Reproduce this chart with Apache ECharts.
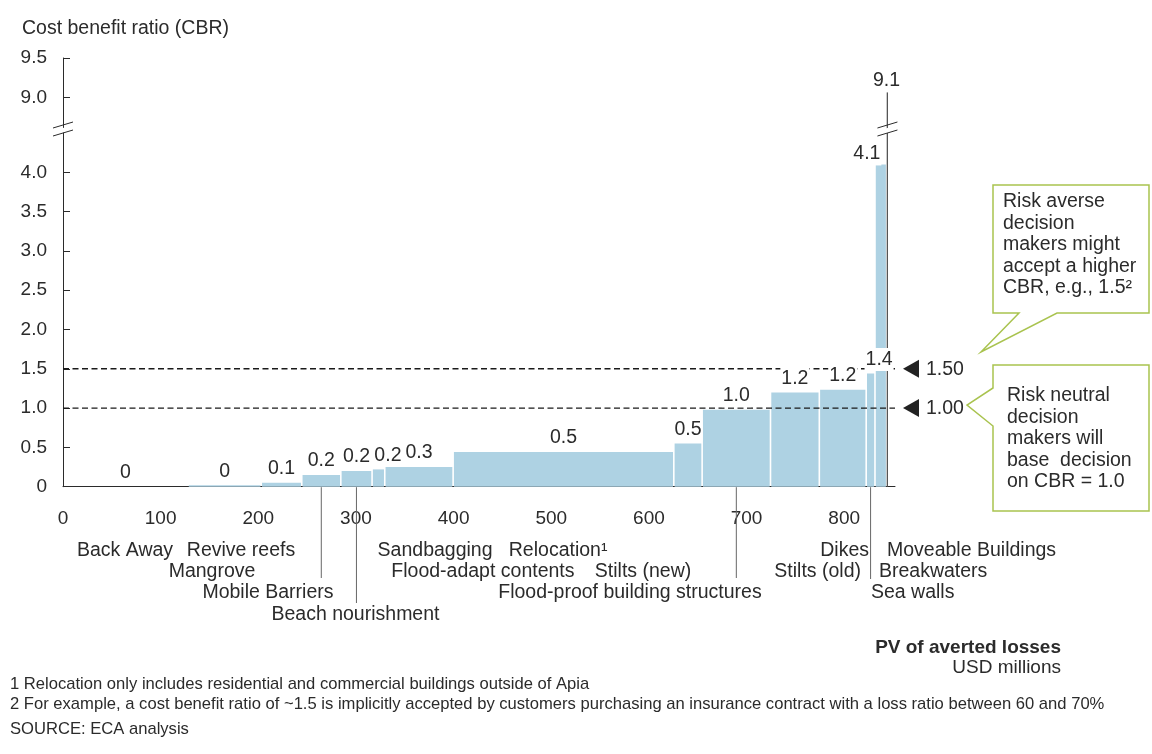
<!DOCTYPE html>
<html><head><meta charset="utf-8">
<script src="https://cdn.jsdelivr.net/npm/echarts@6/dist/echarts.min.js"></script>
<style>html,body{margin:0;padding:0;background:#fff}#c{width:1152px;height:754px}</style>
</head><body><div id="c"></div>
<script>
// ---------------- data ----------------
const measures = ['Back Away','Mangrove','Revive reefs','Mobile Barriers','Beach nourishment','Sandbagging',
  'Flood-adapt contents','Relocation¹','Stilts (new)','Flood-proof building structures','Stilts (old)',
  'Dikes','Sea walls','Breakwaters','Moveable Buildings'];
// PV of averted losses per measure (USD millions) = bar widths
const averted = [128, 75, 41.5, 40, 32, 13, 70, 226, 29, 70, 50, 48, 9, 12, 1.5];
// cost benefit ratio = bar heights
const cbr = [0, 0.02, 0.05, 0.15, 0.2, 0.22, 0.25, 0.44, 0.55, 0.98, 1.2, 1.235, 1.44, 4.1, 9.1];
const valueLabels = ['0','0','0.1','0.2','0.2','0.2','0.3','0.5','0.5','1.0','1.2','1.2','1.4','4.1','9.1'];
const xTicks = [0, 100, 200, 300, 400, 500, 600, 700, 800];
const lowerTicks = [0, 0.5, 1.0, 1.5, 2.0, 2.5, 3.0, 3.5, 4.0];
const upperTicks = [9.0, 9.5];
const thresholds = [1.5, 1.0];

// ---------------- layout / style ----------------
const X_MAX = 852, LOW_MAX = 4.5, UP_MIN = 8.6, UP_MAX = 9.5;
const BAR = '#aed2e3', INK = '#2b2b2b', FONT = '"Liberation Sans", Arial, Helvetica, sans-serif';
const FS = 19.5;
// value label nudges (px) by bar index
const labelShift = {5: [9.5, 0], 12: [8.5, 0], 13: [-14, 3.5], 14: [-1, 5.5]};
// names under the axis: [x in PV units, row, align]
const nameLayout = {
  'Back Away': [63.5, 0, 'center'], 'Revive reefs': [182.3, 0, 'center'], 'Mangrove': [152.6, 1, 'center'],
  'Mobile Barriers': [209.9, 2, 'center'], 'Beach nourishment': [299.5, 3, 'center'],
  'Sandbagging': [381, 0, 'center'], 'Relocation¹': [507, 0, 'center'], 'Flood-adapt contents': [430, 1, 'center'],
  'Stilts (new)': [594, 1, 'center'], 'Flood-proof building structures': [580.6, 2, 'center'],
  'Dikes': [825.4, 0, 'right'], 'Stilts (old)': [817.2, 1, 'right'], 'Moveable Buildings': [843.8, 0, 'left'],
  'Breakwaters': [835.6, 1, 'left'], 'Sea walls': [827.4, 2, 'left']
};
const rowY = [551, 572, 593, 615];
const leaderEnd = {3: 578, 4: 603, 9: 578, 12: 579};

const starts = [], ends = [];
let acc = 0;
averted.forEach(w => { starts.push(acc); acc += w; ends.push(acc); });
const barData = cbr.map((v, i) => [starts[i], ends[i], v, i]);
const last = averted.length - 1;

function fmtY(v) { return v === 0 ? '0' : v.toFixed(1); }

function barRect(params, api, upper) {
  const s = api.value(0), e = api.value(1), v = api.value(2), i = api.value(3);
  const cs = params.coordSys;
  if (upper && v < UP_MIN) return null;
  const p0 = api.coord([s, upper ? UP_MIN : 0]);
  const p1 = api.coord([e, v]);
  const bottom = upper ? cs.y + cs.height : p0[1];
  const top = Math.max(p1[1], cs.y);
  if (i === last) {
    return {type: 'rect', shape: {x: p0[0], y: top, width: 1.3, height: bottom - top}, style: {fill: '#555'}};
  }
  return {type: 'rect', shape: {x: p0[0] + 0.8, y: top, width: p1[0] - p0[0] - 1.6, height: bottom - top},
          style: {fill: BAR}};
}
function barLabel(params, api, upper) {
  const s = api.value(0), e = api.value(1), v = api.value(2), i = api.value(3);
  if (upper ? v < UP_MIN : v > LOW_MAX) return null;
  const p = api.coord([(s + e) / 2, v]);
  const sh = labelShift[i] || [0, 0];
  return {type: 'text', x: p[0] + sh[0], y: p[1] - 14 + sh[1],
    style: {text: valueLabels[i], fill: INK, font: FS + 'px ' + FONT, align: 'center', verticalAlign: 'middle',
            backgroundColor: '#fff', padding: [2, 1, 1, 1]}};
}

const yAxisCommon = (min, max, ticks) => ({
  type: 'value', min: min, max: max, splitLine: {show: false},
  axisLine: {show: true, onZero: false, lineStyle: {color: INK, width: 1}},
  axisTick: {show: true, inside: true, length: 7, customValues: ticks, lineStyle: {color: INK}},
  axisLabel: {customValues: ticks, formatter: fmtY, color: INK, fontSize: 19, fontFamily: FONT, margin: 16}
});

const chart = echarts.init(document.getElementById('c'), null, {renderer: 'canvas'});
const option = {
  animation: false,
  grid: [{left: 63, top: 58, width: 832, height: 70.7}, {left: 63, top: 133, width: 832, height: 353.7}],
  xAxis: [
    {gridIndex: 0, type: 'value', min: 0, max: X_MAX, show: false},
    {gridIndex: 1, type: 'value', min: 0, max: X_MAX, splitLine: {show: false}, axisTick: {show: false},
     axisLine: {lineStyle: {color: INK, width: 1}},
     axisLabel: {customValues: xTicks, color: INK, fontSize: 19, fontFamily: FONT, margin: 23}}
  ],
  yAxis: [Object.assign({gridIndex: 0}, yAxisCommon(UP_MIN, UP_MAX, upperTicks)),
          Object.assign({gridIndex: 1}, yAxisCommon(0, LOW_MAX, lowerTicks))],
  series: [
    {type: 'custom', name: 'barsLow', xAxisIndex: 1, yAxisIndex: 1, z: 2, data: barData,
     encode: {x: [0, 1], y: 2}, renderItem: (p, a) => barRect(p, a, false)},
    {type: 'custom', name: 'barsUp', xAxisIndex: 0, yAxisIndex: 0, z: 2, data: barData,
     encode: {x: [0, 1], y: 2}, renderItem: (p, a) => barRect(p, a, true)},
    {type: 'custom', name: 'thresholds', xAxisIndex: 1, yAxisIndex: 1, z: 3, data: thresholds.map(t => [t]),
     encode: {y: 0},
     renderItem: function (params, api) {
       const t = api.value(0);
       const a = api.coord([0, t]), b = api.coord([X_MAX, t]);
       return {type: 'group', children: [
         {type: 'line', shape: {x1: a[0], y1: a[1], x2: b[0], y2: b[1]},
          style: {stroke: '#1a1a1a', lineWidth: 1.4, lineDash: [6, 3.5]}},
         {type: 'polygon', shape: {points: [[b[0] + 8, b[1]], [b[0] + 24, b[1] - 9], [b[0] + 24, b[1] + 9]]},
          style: {fill: '#222'}},
         {type: 'text', x: b[0] + 31, y: b[1] + 0.5,
          style: {text: t.toFixed(2), fill: INK, font: FS + 'px ' + FONT, align: 'left', verticalAlign: 'middle'}}
       ]};
     }},
    {type: 'custom', name: 'labelsLow', xAxisIndex: 1, yAxisIndex: 1, z: 4, data: barData,
     encode: {x: [0, 1], y: 2}, renderItem: (p, a) => barLabel(p, a, false)},
    {type: 'custom', name: 'labelsUp', xAxisIndex: 0, yAxisIndex: 0, z: 4, data: barData,
     encode: {x: [0, 1], y: 2}, renderItem: (p, a) => barLabel(p, a, true)}
  ]
};
chart.setOption(option);

// ---------------- annotations ----------------
const px = (x, y, g) => chart.convertToPixel({gridIndex: g}, [x, y]);
const g = [];
const txt = (x, y, text, o) => Object.assign({type: 'text', x: x, y: y, z: 20,
  style: Object.assign({text: text, fill: INK, font: FS + 'px ' + FONT, verticalAlign: 'middle'}, o || {})});

g.push(txt(22, 29, 'Cost benefit ratio (CBR)'));

// names below axis
measures.forEach(n => {
  const L = nameLayout[n];
  const p = px(L[0], 0, 1);
  g.push(txt(p[0], rowY[L[1]], n, {align: L[2]}));
});
// leader lines
Object.keys(leaderEnd).forEach(k => {
  const i = +k;
  const p = px((starts[i] + ends[i]) / 2, 0, 1);
  g.push({type: 'line', z: 20, shape: {x1: p[0], y1: p[1] + 0.5, x2: p[0], y2: leaderEnd[k]},
          style: {stroke: '#666', lineWidth: 1}});
});
// axis breaks
const yU = px(0, UP_MIN, 0)[1], yL = px(0, LOW_MAX, 1)[1];
[0, (starts[last] + ends[last]) / 2].forEach(xv => {
  const xp = px(xv, 0, 1)[0];
  g.push({type: 'polygon', z: 21, shape: {points: [[xp - 4, yU + 0.5], [xp + 4, yU - 2], [xp + 4, yL - 2], [xp - 4, yL + 0.5]]},
          style: {fill: '#fff'}});
  g.push({type: 'line', z: 22, shape: {x1: xp - 10, y1: yU - 0.7, x2: xp + 10, y2: yU - 6.7}, style: {stroke: INK, lineWidth: 1}});
  g.push({type: 'line', z: 22, shape: {x1: xp - 10, y1: yL + 3, x2: xp + 10, y2: yL - 3}, style: {stroke: INK, lineWidth: 1}});
});

// callouts
const CALL = '#a9c34f';
g.push({type: 'polygon', z: 20, shape: {points: [[993,185],[1149,185],[1149,313],[1057,313],[981,352],[1019,313],[993,313]]},
        style: {fill: '#fff', stroke: CALL, lineWidth: 1.5}});
g.push({type: 'polygon', z: 20, shape: {points: [[993,365],[1149,365],[1149,511],[993,511],[993,426],[967,405],[993,388]]},
        style: {fill: '#fff', stroke: CALL, lineWidth: 1.5}});
g.push(txt(1003, 191, 'Risk averse\ndecision\nmakers might\naccept a higher\nCBR, e.g., 1.5²',
        {verticalAlign: 'top', lineHeight: 21.5, z: 21}));
g.push(txt(1007, 385, 'Risk neutral\ndecision\nmakers will\nbase  decision\non CBR = 1.0',
        {verticalAlign: 'top', lineHeight: 21.5}));

// axis title
g.push(txt(1061, 648, 'PV of averted losses', {align: 'right', font: 'bold 19px ' + FONT}));
g.push(txt(1061, 668, 'USD millions', {align: 'right', font: '19px ' + FONT}));

// footnotes
const FN = '16.6px ' + FONT;
g.push(txt(10, 684, '1 Relocation only includes residential and commercial buildings outside of Apia', {font: FN}));
g.push(txt(10, 704, '2 For example, a cost benefit ratio of ~1.5 is implicitly accepted by customers purchasing an insurance contract with a loss ratio between 60 and 70%', {font: FN}));
g.push(txt(10, 729, 'SOURCE: ECA analysis', {font: FN}));

g.forEach(e => { if (e.z === undefined) e.z = 20; });
chart.setOption({graphic: {elements: g}});
</script></body></html>
